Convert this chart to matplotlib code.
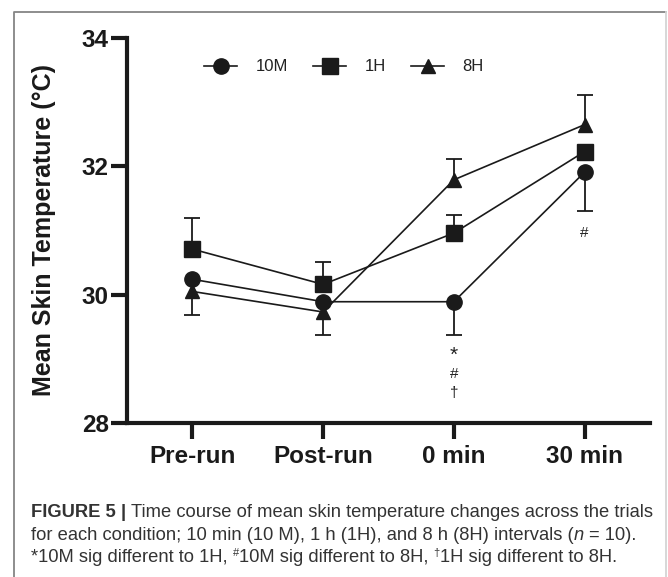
import numpy as np
import matplotlib
matplotlib.use("Agg")
import matplotlib.pyplot as plt
from matplotlib.lines import Line2D
from matplotlib.transforms import IdentityTransform

# mean skin temperature (deg C) per time point
categories = ["Pre-run", "Post-run", "0 min", "30 min"]
series_names = ["10M", "1H", "8H"]
temp_10m = [30.24, 29.89, 29.89, 31.91]
temp_1h = [30.71, 30.16, 30.96, 32.23]
temp_8h = [30.05, 29.73, 31.79, 32.65]

# SD bars, only the visible side of each bar
err_10m_lo = [0.0, 0.0, 0.52, 0.60]
err_10m_hi = [0.0, 0.0, 0.0, 0.0]
err_1h_lo = [0.0, 0.0, 0.0, 0.0]
err_1h_hi = [0.49, 0.35, 0.28, 0.0]
err_8h_lo = [0.36, 0.36, 0.0, 0.0]
err_8h_hi = [0.0, 0.0, 0.33, 0.46]

yticks = [28, 30, 32, 34]

# significance marks: (category index, y, text, size)
sig_marks = [(2, 29.06, "*", 15), (2, 28.77, "#", 11), (2, 28.46, "\u2020", 11), (3, 30.96, "#", 11)]

W, H = 668, 577
fig = plt.figure(figsize=(W / 100, H / 100), dpi=100)
ax = fig.add_axes([127 / W, 1 - 423 / H, 523 / W, 385 / H])

bold = {"family": "Liberation Sans", "weight": "bold"}
x = np.arange(len(categories))

data = [
    (temp_10m, err_10m_lo, err_10m_hi, "o", 11),
    (temp_1h, err_1h_lo, err_1h_hi, "s", 11),
    (temp_8h, err_8h_lo, err_8h_hi, "^", 10),
]

handles = []
for (vals, lo, hi, mk, ms), name in zip(data, series_names):
    vals = np.array(vals)
    lo = np.array(lo)
    hi = np.array(hi)
    # error bar stems
    keep = (lo + hi) > 0
    ax.vlines(x[keep], (vals - lo)[keep], (vals + hi)[keep], color="#1a1a1a", lw=1.3, zorder=2)
    # caps only at ends that have an error
    ax.plot(x[lo > 0], (vals - lo)[lo > 0], "_", color="#1a1a1a", ms=12, mew=1.3, zorder=2)
    ax.plot(x[hi > 0], (vals + hi)[hi > 0], "_", color="#1a1a1a", ms=12, mew=1.3, zorder=2)
    h, = ax.plot(x, vals, marker=mk, ms=ms, color="#1a1a1a", lw=1.2, zorder=3, label=name)
    handles.append(h)

for i, yv, s, fs in sig_marks:
    ax.text(x[i], yv, s, ha="center", va="center", fontsize=fs,
            family="Liberation Sans", color="#222222")

ax.set_xlim(-0.5, 3.5)
ax.set_ylim(28, 34)
ax.set_yticks(yticks)
ax.set_xticks(x)
ax.set_xticklabels(categories)

for side in ["top", "right"]:
    ax.spines[side].set_visible(False)
for side in ["left", "bottom"]:
    ax.spines[side].set_linewidth(3)
    ax.spines[side].set_color("#1a1a1a")
    ax.spines[side].set_capstyle("projecting")

ax.tick_params(axis="both", length=11.5, width=3, color="#1a1a1a")
ax.tick_params(axis="y", pad=1.5)
ax.tick_params(axis="x", pad=4)
for lab in ax.get_xticklabels() + ax.get_yticklabels():
    lab.set_fontproperties(bold)
    lab.set_fontsize(17.5)
    lab.set_color("#1a1a1a")

ax.set_ylabel("Mean Skin Temperature (\u00b0C)", fontdict=bold, fontsize=18, color="#1a1a1a", va="center")
ax.yaxis.set_label_coords(-0.158, 0.5)

leg = ax.legend(handles=handles, loc="center", bbox_to_anchor=(344 / W, 1 - 67 / H),
                bbox_transform=fig.transFigure, ncol=3, frameon=False,
                handlelength=2.0, handletextpad=1.1, columnspacing=1.5,
                prop={"family": "Liberation Sans", "size": 12})
for t in leg.get_texts():
    t.set_color("#222222")

# frame around the figure panel: darker left/top, faint right edge
px = IdentityTransform()
fig.lines.append(Line2D([14, 14, 666], [-5, H - 12, H - 12], transform=px, color="#858585", lw=1.3))
fig.lines.append(Line2D([666, 666], [-5, H - 12], transform=px, color="#d4d4d4", lw=1.3))

# caption, drawn as runs of text in pixel coordinates
renderer = fig.canvas.get_renderer()
cap_family = "Liberation Sans"
cap_size = 13.2
cap_color = "#333333"


def space_width(props):
    a = fig.text(0, 0, "x x", transform=px, **props)
    b = fig.text(0, 0, "xx", transform=px, **props)
    w = a.get_window_extent(renderer).width - b.get_window_extent(renderer).width
    a.remove()
    b.remove()
    return w


def draw_runs(x0, y0, runs):
    xc = x0
    for text, extra in runs:
        props = dict(family=cap_family, fontsize=cap_size, color=cap_color)
        dy = extra.pop("dy", 0)
        props.update(extra)
        if text == " ":
            xc += space_width(props)
            continue
        t = fig.text(xc, H - y0 + dy, text, transform=px,
                     va="baseline", ha="left", **props)
        xc += t.get_window_extent(renderer).width


draw_runs(31, 517, [("FIGURE 5", {"weight": "bold"}), (" ", {}), ("|", {"weight": "bold"}), (" ", {}),
                    ("Time course of mean skin temperature changes across the trials", {})])
draw_runs(31, 540, [("for each condition; 10 min (10 M), 1 h (1H), and 8 h (8H) intervals (", {}),
                    ("n", {"style": "italic"}), (" ", {}), ("= 10).", {})])
draw_runs(31, 562, [("*10M sig different to 1H,", {}), (" ", {}),
                    ("#", {"fontsize": 8, "dy": 6}), ("10M sig different to 8H,", {}), (" ", {}),
                    ("\u2020", {"fontsize": 8, "dy": 6}), ("1H sig different to 8H.", {})])

fig.savefig("out.png", dpi=100)
